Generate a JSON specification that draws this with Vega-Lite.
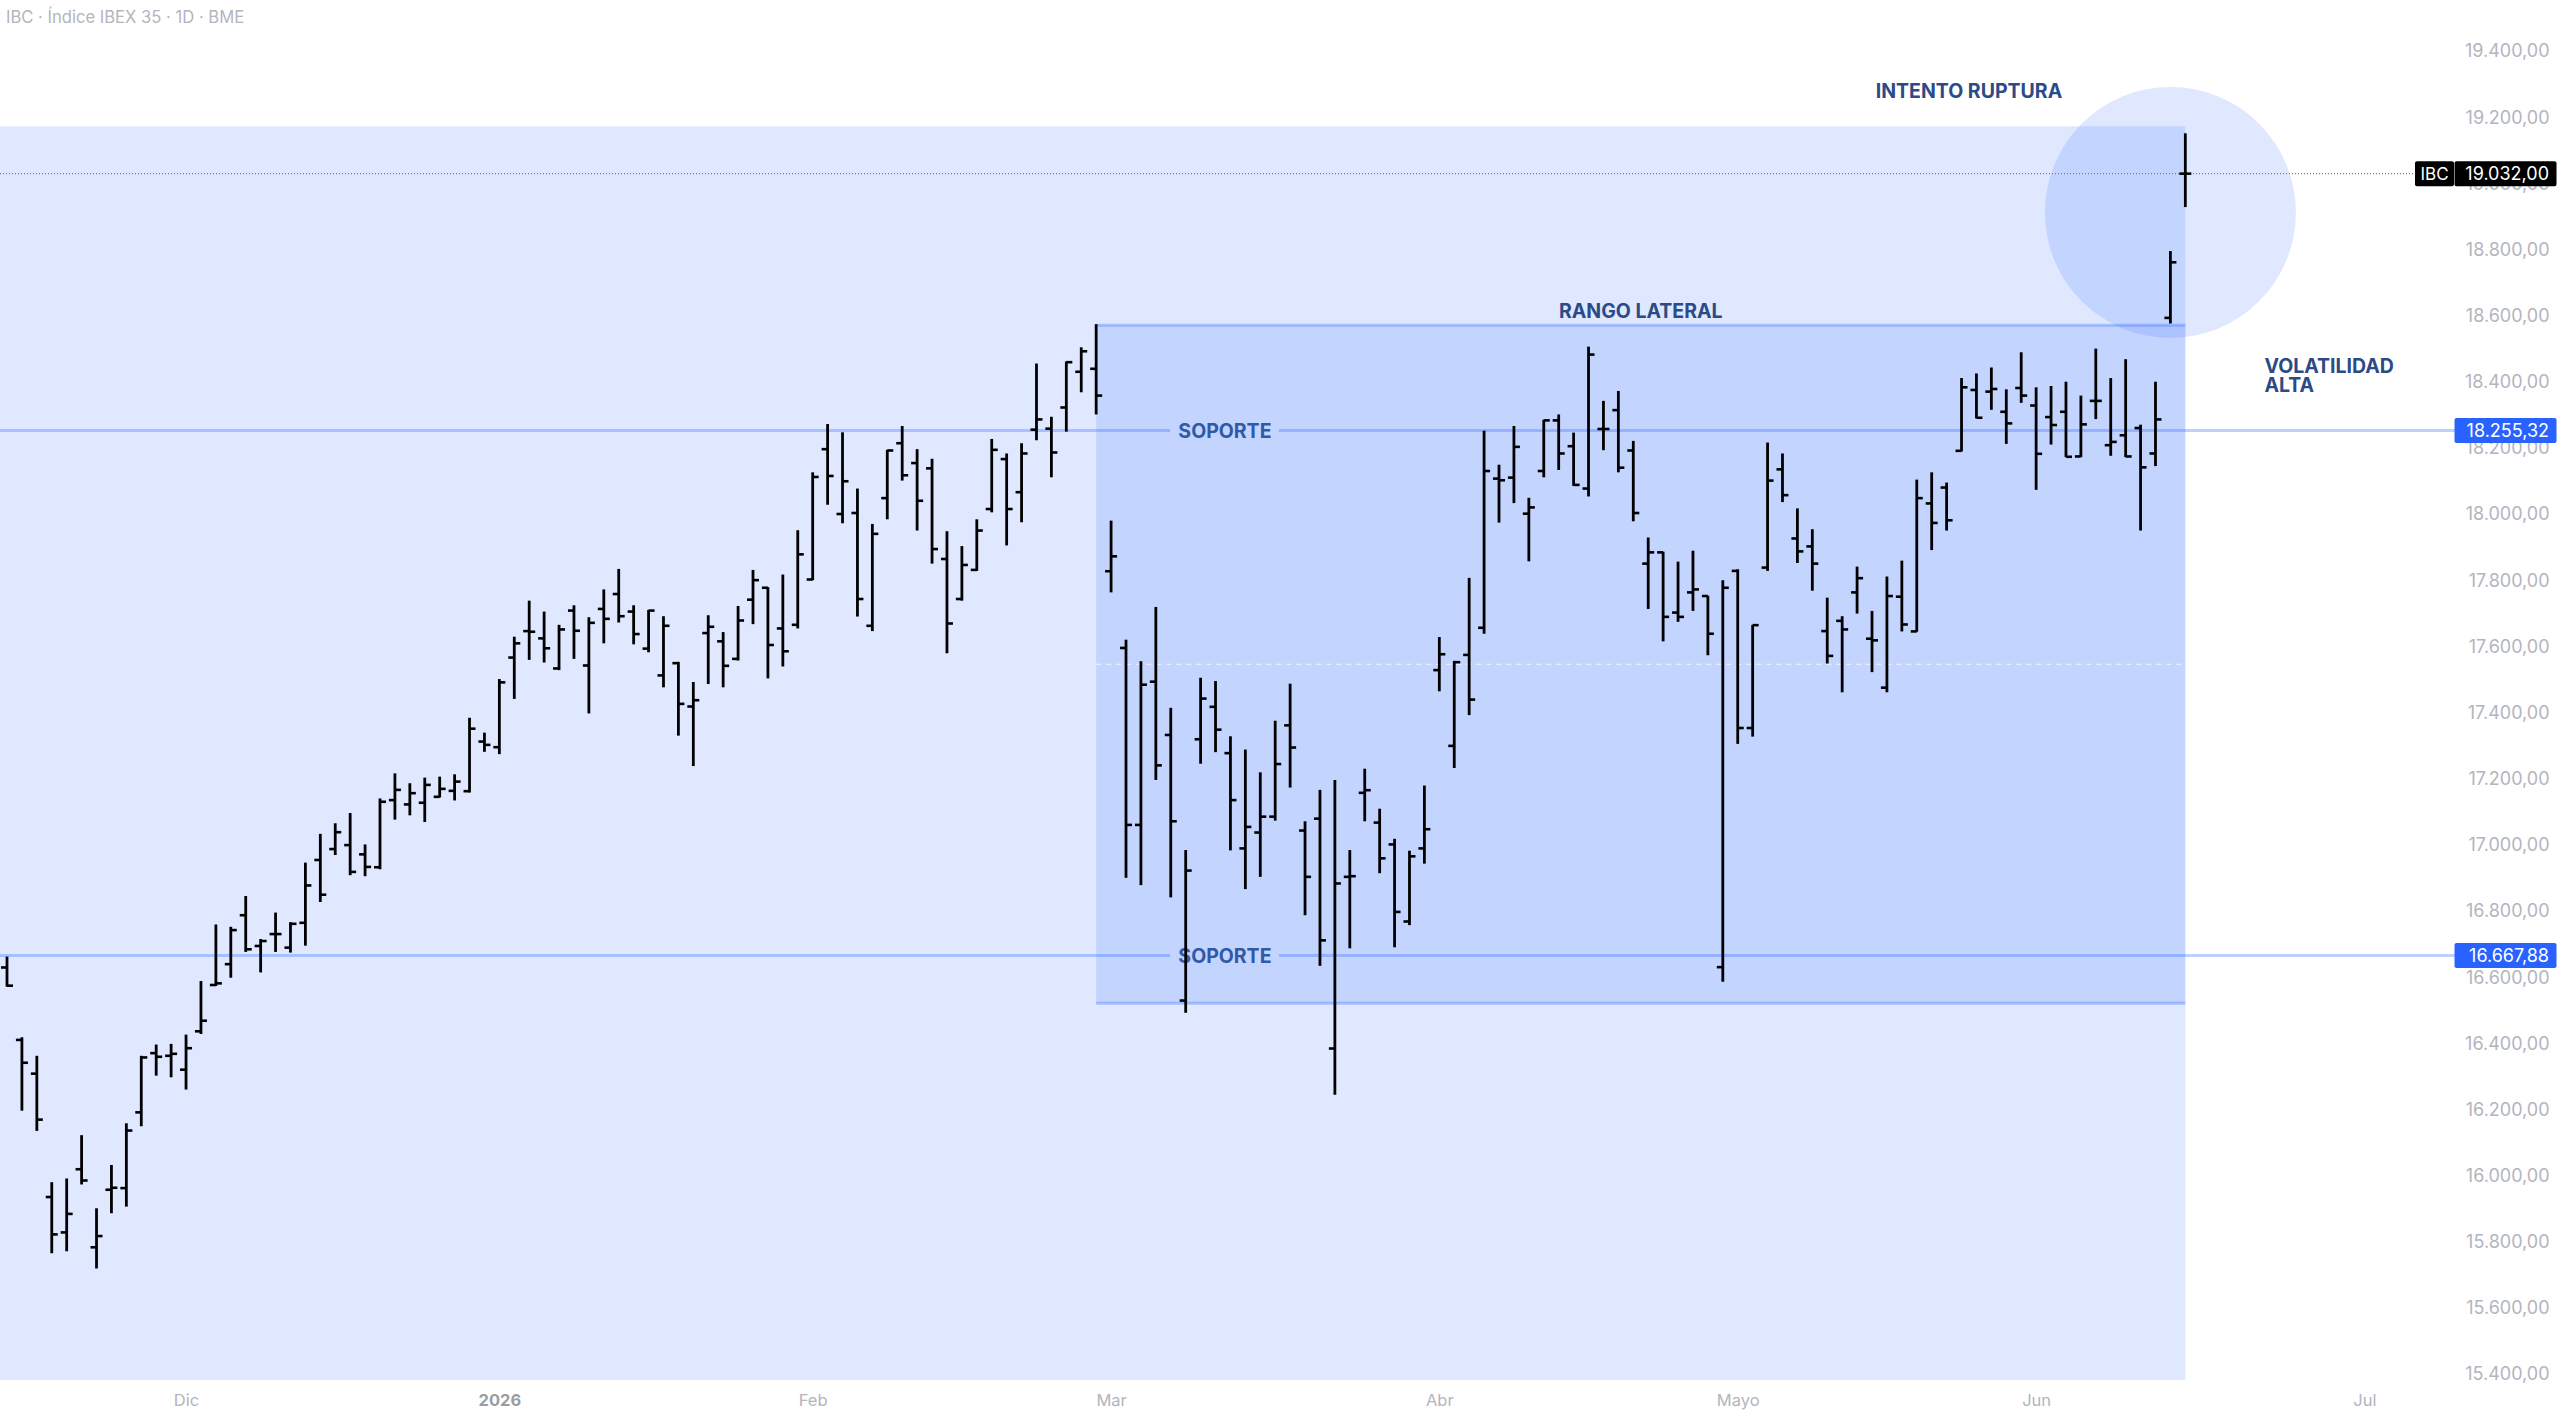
{
  "$schema": "https://vega.github.io/schema/vega-lite/v6.json",
  "width": 2560,
  "height": 1415,
  "padding": 0,
  "autosize": "none",
  "background": "white",
  "view": {"stroke": null},
  "config": {"font": "Inter"},
  "datasets": {
    "ohlc": [
      {"bar":0,"open":16632,"high":16665,"low":16574,"close":16577},
      {"bar":1,"open":16413,"high":16421,"low":16199,"close":16344},
      {"bar":2,"open":16311,"high":16365,"low":16138,"close":16172},
      {"bar":3,"open":15938,"high":15983,"low":15768,"close":15825},
      {"bar":4,"open":15831,"high":15994,"low":15774,"close":15887},
      {"bar":5,"open":16022,"high":16125,"low":15976,"close":15988},
      {"bar":6,"open":15786,"high":15904,"low":15722,"close":15820},
      {"bar":7,"open":15960,"high":16035,"low":15889,"close":15966},
      {"bar":8,"open":15965,"high":16161,"low":15909,"close":16139},
      {"bar":9,"open":16194,"high":16365,"low":16152,"close":16360},
      {"bar":10,"open":16373,"high":16399,"low":16305,"close":16362},
      {"bar":11,"open":16365,"high":16401,"low":16300,"close":16371},
      {"bar":12,"open":16323,"high":16429,"low":16263,"close":16388},
      {"bar":13,"open":16439,"high":16591,"low":16431,"close":16471},
      {"bar":14,"open":16579,"high":16762,"low":16576,"close":16584},
      {"bar":15,"open":16642,"high":16755,"low":16601,"close":16745},
      {"bar":16,"open":16790,"high":16848,"low":16679,"close":16687},
      {"bar":17,"open":16697,"high":16718,"low":16617,"close":16712},
      {"bar":18,"open":16733,"high":16798,"low":16679,"close":16733},
      {"bar":19,"open":16692,"high":16769,"low":16677,"close":16764},
      {"bar":20,"open":16767,"high":16949,"low":16698,"close":16880},
      {"bar":21,"open":16957,"high":17036,"low":16830,"close":16852},
      {"bar":22,"open":16990,"high":17068,"low":16972,"close":17041},
      {"bar":23,"open":17002,"high":17099,"low":16911,"close":16921},
      {"bar":24,"open":16974,"high":17004,"low":16908,"close":16936},
      {"bar":25,"open":16935,"high":17143,"low":16929,"close":17133},
      {"bar":26,"open":17138,"high":17219,"low":17079,"close":17169},
      {"bar":27,"open":17125,"high":17189,"low":17092,"close":17159},
      {"bar":28,"open":17130,"high":17206,"low":17072,"close":17184},
      {"bar":29,"open":17148,"high":17209,"low":17146,"close":17172},
      {"bar":30,"open":17166,"high":17216,"low":17137,"close":17194},
      {"bar":31,"open":17165,"high":17387,"low":17161,"close":17354},
      {"bar":32,"open":17315,"high":17342,"low":17284,"close":17305},
      {"bar":33,"open":17298,"high":17504,"low":17277,"close":17494},
      {"bar":34,"open":17569,"high":17632,"low":17444,"close":17612},
      {"bar":35,"open":17649,"high":17741,"low":17562,"close":17647},
      {"bar":36,"open":17627,"high":17708,"low":17554,"close":17597},
      {"bar":37,"open":17536,"high":17668,"low":17531,"close":17654},
      {"bar":38,"open":17711,"high":17727,"low":17565,"close":17650},
      {"bar":39,"open":17545,"high":17691,"low":17400,"close":17674},
      {"bar":40,"open":17716,"high":17775,"low":17612,"close":17686},
      {"bar":41,"open":17761,"high":17837,"low":17675,"close":17694},
      {"bar":42,"open":17708,"high":17727,"low":17609,"close":17640},
      {"bar":43,"open":17596,"high":17713,"low":17585,"close":17711},
      {"bar":44,"open":17515,"high":17694,"low":17479,"close":17665},
      {"bar":45,"open":17552,"high":17556,"low":17333,"close":17429},
      {"bar":46,"open":17421,"high":17495,"low":17241,"close":17440},
      {"bar":47,"open":17643,"high":17697,"low":17489,"close":17662},
      {"bar":48,"open":17618,"high":17646,"low":17479,"close":17544},
      {"bar":49,"open":17565,"high":17725,"low":17560,"close":17681},
      {"bar":50,"open":17744,"high":17834,"low":17670,"close":17803},
      {"bar":51,"open":17780,"high":17782,"low":17506,"close":17607},
      {"bar":52,"open":17657,"high":17820,"low":17542,"close":17588},
      {"bar":53,"open":17668,"high":17954,"low":17657,"close":17881},
      {"bar":54,"open":17805,"high":18129,"low":17803,"close":18115},
      {"bar":55,"open":18199,"high":18275,"low":18031,"close":18118},
      {"bar":56,"open":18003,"high":18250,"low":17975,"close":18102},
      {"bar":57,"open":18006,"high":18080,"low":17693,"close":17746},
      {"bar":58,"open":17665,"high":17973,"low":17649,"close":17943},
      {"bar":59,"open":18051,"high":18197,"low":17987,"close":18195},
      {"bar":60,"open":18217,"high":18269,"low":18104,"close":18120},
      {"bar":61,"open":18157,"high":18199,"low":17953,"close":18043},
      {"bar":62,"open":18141,"high":18170,"low":17853,"close":17897},
      {"bar":63,"open":17867,"high":17951,"low":17582,"close":17672},
      {"bar":64,"open":17746,"high":17906,"low":17741,"close":17849},
      {"bar":65,"open":17834,"high":17987,"low":17831,"close":17953},
      {"bar":66,"open":18018,"high":18230,"low":18008,"close":18197},
      {"bar":67,"open":18169,"high":18186,"low":17908,"close":18018},
      {"bar":68,"open":18069,"high":18217,"low":17978,"close":18186},
      {"bar":69,"open":18258,"high":18458,"low":18226,"close":18289},
      {"bar":70,"open":18261,"high":18297,"low":18114,"close":18189},
      {"bar":71,"open":18325,"high":18464,"low":18252,"close":18462},
      {"bar":72,"open":18433,"high":18507,"low":18371,"close":18495},
      {"bar":73,"open":18442,"high":18577,"low":18304,"close":18361},
      {"bar":74,"open":17830,"high":17983,"low":17766,"close":17875},
      {"bar":75,"open":17598,"high":17623,"low":16903,"close":17063},
      {"bar":76,"open":17063,"high":17558,"low":16881,"close":17487},
      {"bar":77,"open":17496,"high":17722,"low":17199,"close":17243},
      {"bar":78,"open":17335,"high":17417,"low":16844,"close":17074},
      {"bar":79,"open":16532,"high":16987,"low":16495,"close":16925},
      {"bar":80,"open":17322,"high":17508,"low":17248,"close":17445},
      {"bar":81,"open":17420,"high":17498,"low":17283,"close":17351},
      {"bar":82,"open":17280,"high":17331,"low":16986,"close":17138},
      {"bar":83,"open":16992,"high":17291,"low":16869,"close":17057},
      {"bar":84,"open":17040,"high":17222,"low":16906,"close":17088},
      {"bar":85,"open":17088,"high":17378,"low":17076,"close":17247},
      {"bar":86,"open":17364,"high":17490,"low":17176,"close":17297},
      {"bar":87,"open":17046,"high":17074,"low":16790,"close":16906},
      {"bar":88,"open":17082,"high":17169,"low":16637,"close":16714},
      {"bar":89,"open":16387,"high":17199,"low":16247,"close":16886},
      {"bar":90,"open":16906,"high":16987,"low":16690,"close":16908},
      {"bar":91,"open":17160,"high":17233,"low":17074,"close":17168},
      {"bar":92,"open":17070,"high":17112,"low":16917,"close":16962},
      {"bar":93,"open":17004,"high":17021,"low":16693,"close":16800},
      {"bar":94,"open":16771,"high":16985,"low":16760,"close":16968},
      {"bar":95,"open":16992,"high":17182,"low":16946,"close":17050},
      {"bar":96,"open":17531,"high":17631,"low":17467,"close":17579},
      {"bar":97,"open":17302,"high":17559,"low":17235,"close":17555},
      {"bar":98,"open":17577,"high":17810,"low":17395,"close":17442},
      {"bar":99,"open":17659,"high":18255,"low":17641,"close":18133},
      {"bar":100,"open":18110,"high":18152,"low":17977,"close":18105},
      {"bar":101,"open":18113,"high":18269,"low":18036,"close":18206},
      {"bar":102,"open":18004,"high":18052,"low":17860,"close":18023},
      {"bar":103,"open":18133,"high":18288,"low":18114,"close":18286},
      {"bar":104,"open":18286,"high":18304,"low":18136,"close":18186},
      {"bar":105,"open":18208,"high":18249,"low":18088,"close":18091},
      {"bar":106,"open":18080,"high":18509,"low":18056,"close":18485},
      {"bar":107,"open":18260,"high":18345,"low":18196,"close":18260},
      {"bar":108,"open":18317,"high":18375,"low":18129,"close":18143},
      {"bar":109,"open":18195,"high":18224,"low":17981,"close":18006},
      {"bar":110,"open":17853,"high":17932,"low":17716,"close":17887},
      {"bar":111,"open":17887,"high":17889,"low":17618,"close":17692},
      {"bar":112,"open":17705,"high":17859,"low":17677,"close":17692},
      {"bar":113,"open":17766,"high":17892,"low":17710,"close":17775},
      {"bar":114,"open":17755,"high":17756,"low":17576,"close":17641},
      {"bar":115,"open":16633,"high":17803,"low":16589,"close":17780},
      {"bar":116,"open":17831,"high":17836,"low":17308,"close":17356},
      {"bar":117,"open":17356,"high":17668,"low":17330,"close":17667},
      {"bar":118,"open":17841,"high":18219,"low":17831,"close":18104},
      {"bar":119,"open":18138,"high":18186,"low":18039,"close":18060},
      {"bar":120,"open":17929,"high":18020,"low":17855,"close":17890},
      {"bar":121,"open":17905,"high":17957,"low":17771,"close":17853},
      {"bar":122,"open":17649,"high":17750,"low":17551,"close":17574},
      {"bar":123,"open":17680,"high":17694,"low":17464,"close":17654},
      {"bar":124,"open":17766,"high":17844,"low":17702,"close":17809},
      {"bar":125,"open":17626,"high":17710,"low":17525,"close":17621},
      {"bar":126,"open":17478,"high":17814,"low":17464,"close":17755},
      {"bar":127,"open":17753,"high":17862,"low":17648,"close":17669},
      {"bar":128,"open":17648,"high":18107,"low":17647,"close":18051},
      {"bar":129,"open":18035,"high":18129,"low":17894,"close":17976},
      {"bar":130,"open":18083,"high":18098,"low":17953,"close":17984},
      {"bar":131,"open":18194,"high":18414,"low":18192,"close":18386},
      {"bar":132,"open":18378,"high":18428,"low":18292,"close":18294},
      {"bar":133,"open":18373,"high":18446,"low":18318,"close":18381},
      {"bar":134,"open":18312,"high":18380,"low":18215,"close":18277},
      {"bar":135,"open":18384,"high":18492,"low":18339,"close":18361},
      {"bar":136,"open":18331,"high":18386,"low":18076,"close":18185},
      {"bar":137,"open":18296,"high":18390,"low":18213,"close":18272},
      {"bar":138,"open":18312,"high":18403,"low":18175,"close":18176},
      {"bar":139,"open":18177,"high":18361,"low":18175,"close":18274},
      {"bar":140,"open":18345,"high":18503,"low":18290,"close":18345},
      {"bar":141,"open":18211,"high":18414,"low":18179,"close":18221},
      {"bar":142,"open":18241,"high":18471,"low":18175,"close":18177},
      {"bar":143,"open":18263,"high":18273,"low":17953,"close":18144},
      {"bar":144,"open":18186,"high":18403,"low":18148,"close":18289},
      {"bar":145,"open":18596,"high":18798,"low":18579,"close":18764},
      {"bar":146,"open":19032,"high":19154,"low":18931,"close":19032}
    ],
    "zones": [
      {"bar":-0.469,"bar1":146,"price":15385,"price2":19175},
      {"bar":73,"bar1":146,"price":16523.8,"price2":18573.6}
    ],
    "levels": [
      {"bar":-0.469,"bar1":77.95,"price":18255.32},
      {"bar":85.25,"bar1":164.1,"price":18255.32},
      {"bar":-0.469,"bar1":77.95,"price":16667.88},
      {"bar":85.25,"bar1":164.1,"price":16667.88},
      {"bar":73,"bar1":146,"price":18573.6},
      {"bar":73,"bar1":146,"price":16523.8}
    ],
    "notes": [
      {"bar":81.63,"price":18255.32,"note":"SOPORTE"},
      {"bar":81.63,"price":16667.88,"note":"SOPORTE"},
      {"bar":109.5,"price":18619,"note":"RANGO LATERAL"},
      {"bar":131.5,"price":19282,"note":"INTENTO RUPTURA"}
    ],
    "tags": [
      {"bar":167.46,"price":19032,"tag":"19.032,00"},
      {"bar":167.46,"price":18255.32,"tag":"18.255,32"},
      {"bar":167.46,"price":16667.88,"tag":"16.667,88"}
    ]
  },
  "encoding": {
    "x": {
      "field": "bar",
      "type": "quantitative",
      "scale": {"domain": [-0.469, 171.112], "nice": false, "zero": false},
      "title": null,
      "axis": {
        "orient": "bottom",
        "offset": -15,
        "values": [12, 33, 54, 74, 96, 116, 136, 158],
        "labelExpr": "{'12':'Dic','33':'2026','54':'Feb','74':'Mar','96':'Abr','116':'Mayo','136':'Jun','158':'Jul'}[datum.value]",
        "domain": false,
        "ticks": false,
        "grid": false,
        "labelPadding": 0,
        "labelBaseline": "middle",
        "labelFontSize": 16.5,
        "labelColor": {"condition": {"test": "datum.value == 33", "value": "#9a9da6"}, "value": "#b2b5be"},
        "labelFontWeight": {"condition": {"test": "datum.value == 33", "value": "bold"}, "value": "normal"},
        "labelOverlap": false,
        "labelFlush": false,
        "labelBound": false
      }
    },
    "y": {
      "field": "price",
      "type": "quantitative",
      "scale": {"domain": [15279, 19557], "nice": false, "zero": false},
      "title": null,
      "axis": {
        "orient": "right",
        "values": [15400, 15600, 15800, 16000, 16200, 16400, 16600, 16800, 17000, 17200, 17400, 17600, 17800, 18000, 18200, 18400, 18600, 18800, 19000, 19200, 19400],
        "labelExpr": "slice(format(datum.value,'d'),0,2) + '.' + slice(format(datum.value,'d'),2) + ',00'",
        "domain": false,
        "ticks": false,
        "grid": false,
        "labelPadding": -11,
        "labelAlign": "right",
        "labelBaseline": "middle",
        "labelFontSize": 18,
        "labelColor": "#b2b5be",
        "labelOverlap": false,
        "labelFlush": false,
        "labelBound": false
      }
    }
  },
  "layer": [
    {
      "data": {"name": "zones"},
      "mark": {"type": "rect", "color": "#2962ff", "opacity": 0.15},
      "encoding": {"x2": {"field": "bar1"}, "y2": {"field": "price2"}}
    },
    {
      "data": {"values": [{"bar": 145, "price": 18914.7}]},
      "mark": {"type": "point", "shape": "circle", "filled": true, "size": 63000, "color": "#2962ff", "opacity": 0.15}
    },
    {
      "data": {"name": "levels"},
      "mark": {"type": "rule", "color": "#2962ff", "opacity": 0.3, "strokeWidth": 3},
      "encoding": {"x2": {"field": "bar1"}}
    },
    {
      "data": {"values": [{"bar": 73, "bar1": 146, "price": 17548.7}]},
      "mark": {"type": "rule", "color": "white", "opacity": 0.8, "strokeWidth": 1.2, "strokeDash": [5, 5]},
      "encoding": {"x2": {"field": "bar1"}}
    },
    {
      "data": {"values": [{"bar": -0.469, "bar1": 161.4, "price": 19032}]},
      "mark": {"type": "rule", "color": "#787b86", "strokeWidth": 1.1, "strokeDash": [1, 2]},
      "encoding": {"x2": {"field": "bar1"}}
    },
    {
      "data": {"name": "notes"},
      "mark": {"type": "text", "fontSize": 19.5, "fontWeight": 700, "align": "center", "baseline": "middle", "dy": 1.5, "color": "#2c4a86"},
      "encoding": {
        "text": {"field": "note"},
        "color": {"condition": {"test": "datum.note == 'SOPORTE'", "value": "#3059a8"}, "value": "#2c4a86"}
      }
    },
    {
      "data": {"values": [
        {"bar": 151.3, "price": 18450.5, "note": "VOLATILIDAD"},
        {"bar": 151.3, "price": 18393, "note": "ALTA"}
      ]},
      "mark": {"type": "text", "fontSize": 19.5, "fontWeight": 700, "align": "left", "baseline": "middle", "dy": 1, "color": "#2c4a86"},
      "encoding": {"text": {"field": "note"}}
    },
    {
      "data": {"values": [{"bar": -0.067, "price": 19506, "note": "IBC · Índice IBEX 35 · 1D · BME"}]},
      "mark": {"type": "text", "fontSize": 16.6, "align": "left", "baseline": "middle", "dy": 1, "color": "#b2b5be"},
      "encoding": {"text": {"field": "note"}}
    },
    {
      "data": {"name": "ohlc"},
      "mark": {"type": "rule", "color": "#000000", "strokeWidth": 2.8},
      "encoding": {
        "y": {
          "field": "low",
          "type": "quantitative",
          "title": null,
          "axis": {
            "orient": "right",
            "values": [15400, 15600, 15800, 16000, 16200, 16400, 16600, 16800, 17000, 17200, 17400, 17600, 17800, 18000, 18200, 18400, 18600, 18800, 19000, 19200, 19400],
            "labelExpr": "slice(format(datum.value,'d'),0,2) + '.' + slice(format(datum.value,'d'),2) + ',00'",
            "domain": false,
            "ticks": false,
            "grid": false,
            "labelPadding": -11,
            "labelAlign": "right",
            "labelBaseline": "middle",
            "labelFontSize": 18,
            "labelColor": "#b2b5be",
            "labelOverlap": false,
            "labelFlush": false,
            "labelBound": false
          },
          "scale": {"domain": [15279, 19557], "nice": false, "zero": false}
        },
        "y2": {"field": "high"}
      }
    },
    {
      "data": {"name": "ohlc"},
      "mark": {"type": "rule", "color": "#000000", "strokeWidth": 2.6, "xOffset": -6, "x2Offset": 0},
      "encoding": {
        "x2": {"field": "bar"},
        "y": {
          "field": "open",
          "type": "quantitative",
          "title": null,
          "axis": {
            "orient": "right",
            "values": [15400, 15600, 15800, 16000, 16200, 16400, 16600, 16800, 17000, 17200, 17400, 17600, 17800, 18000, 18200, 18400, 18600, 18800, 19000, 19200, 19400],
            "labelExpr": "slice(format(datum.value,'d'),0,2) + '.' + slice(format(datum.value,'d'),2) + ',00'",
            "domain": false,
            "ticks": false,
            "grid": false,
            "labelPadding": -11,
            "labelAlign": "right",
            "labelBaseline": "middle",
            "labelFontSize": 18,
            "labelColor": "#b2b5be",
            "labelOverlap": false,
            "labelFlush": false,
            "labelBound": false
          },
          "scale": {"domain": [15279, 19557], "nice": false, "zero": false}
        }
      }
    },
    {
      "data": {"name": "ohlc"},
      "mark": {"type": "rule", "color": "#000000", "strokeWidth": 2.6, "xOffset": 0, "x2Offset": 6},
      "encoding": {
        "x2": {"field": "bar"},
        "y": {
          "field": "close",
          "type": "quantitative",
          "title": null,
          "axis": {
            "orient": "right",
            "values": [15400, 15600, 15800, 16000, 16200, 16400, 16600, 16800, 17000, 17200, 17400, 17600, 17800, 18000, 18200, 18400, 18600, 18800, 19000, 19200, 19400],
            "labelExpr": "slice(format(datum.value,'d'),0,2) + '.' + slice(format(datum.value,'d'),2) + ',00'",
            "domain": false,
            "ticks": false,
            "grid": false,
            "labelPadding": -11,
            "labelAlign": "right",
            "labelBaseline": "middle",
            "labelFontSize": 18,
            "labelColor": "#b2b5be",
            "labelOverlap": false,
            "labelFlush": false,
            "labelBound": false
          },
          "scale": {"domain": [15279, 19557], "nice": false, "zero": false}
        }
      }
    },
    {
      "data": {"name": "tags"},
      "mark": {"type": "rect", "width": 102, "height": 25, "cornerRadius": 2},
      "encoding": {
        "color": {"condition": {"test": "datum.tag == '19.032,00'", "value": "#000000"}, "value": "#2962ff"}
      }
    },
    {
      "data": {"values": [{"bar": 162.7, "price": 19032, "tag": "IBC"}]},
      "mark": {"type": "rect", "width": 39, "height": 25, "cornerRadius": 2, "color": "#000000"}
    },
    {
      "data": {"name": "tags"},
      "mark": {"type": "text", "fontSize": 18, "align": "right", "baseline": "middle", "dx": 43.5, "dy": 1, "color": "white"},
      "encoding": {"text": {"field": "tag"}}
    },
    {
      "data": {"values": [{"bar": 162.7, "price": 19032, "tag": "IBC"}]},
      "mark": {"type": "text", "fontSize": 17, "align": "center", "baseline": "middle", "dy": 1, "color": "white"},
      "encoding": {"text": {"field": "tag"}}
    }
  ]
}
